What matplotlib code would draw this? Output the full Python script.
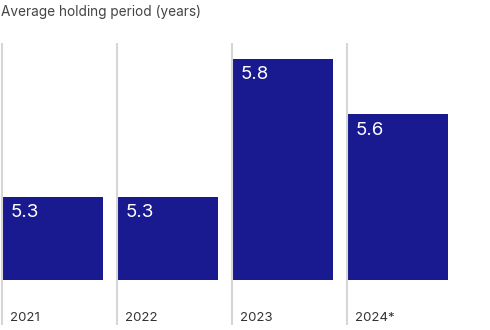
import matplotlib
matplotlib.use("Agg")
import matplotlib.pyplot as plt
import numpy as np

plt.rcParams['font.family'] = ['Inter', 'DejaVu Sans']

# Data
years = ['2021', '2022', '2023', '2024*']
holding = [5.3, 5.3, 5.8, 5.6]
baseline = 5.0

BAR_COLOR = '#191a8f'
GRID_COLOR = '#d6d6d6'
PX = 276  # pixels per year on the value axis

fig = plt.figure(figsize=(4.9, 3.3), dpi=100)
ax = fig.add_axes([0, 0, 1, 1])

# bars every 115 px, 101 px wide
x = np.arange(len(years))
ax.bar(x, np.array(holding) - baseline, bottom=baseline, width=101/115,
       align='edge', color=BAR_COLOR, zorder=2)

# thin separators on the left of each bar
ax.vlines(x, baseline - 45/PX, baseline + 237/PX, color=GRID_COLOR, lw=1.5, zorder=3)

for xi, v, yr in zip(x, holding, years):
    ax.annotate(f'{v:.1f}', (xi, v), xytext=(6.5, -11.3), textcoords='offset points',
                ha='left', va='center', color='white', fontsize=13.5, zorder=4)
    ax.annotate(yr, (xi, baseline), xytext=(5.5, -27.2), textcoords='offset points',
                ha='left', va='center', color='#333333', fontsize=9.5, zorder=4)

ax.set_xlim(-2/115, 488/115)
ax.set_ylim(baseline - 50/PX, baseline + 280/PX)
ax.axis('off')

fig.text(1/490, 1 - 12/330, 'Average holding period (years)', ha='left', va='center',
         fontsize=9.8, color='#444444')

plt.savefig('out.png', dpi=100)
